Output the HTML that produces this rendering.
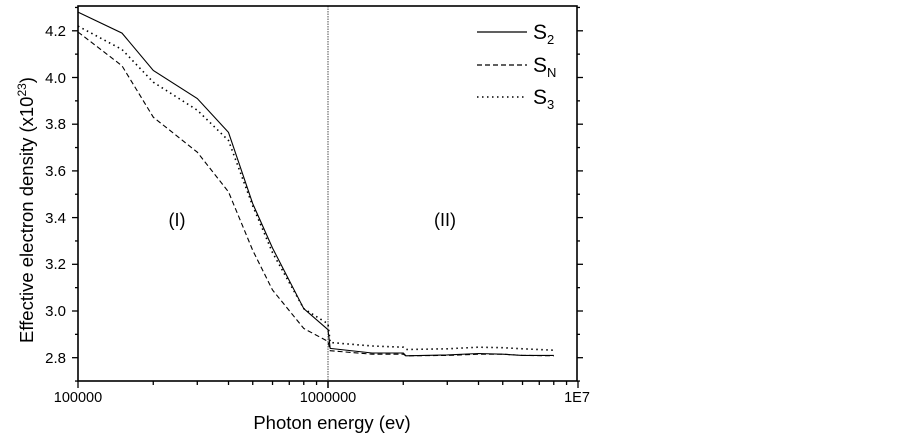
<!DOCTYPE html>
<html><head><meta charset="utf-8"><style>html,body{margin:0;padding:0;background:#fff}svg{display:block}</style></head>
<body>
<svg width="902" height="437" xmlns="http://www.w3.org/2000/svg" font-family="Liberation Sans, Arial, sans-serif">
<rect width="902" height="437" fill="#fff"/>
<g id="ticks" stroke="#000" stroke-width="1.3"></g>
<line x1="328" y1="6" x2="328" y2="381" stroke="#888" stroke-width="1.5" stroke-dasharray="1.5,1"/>
<g id="series" fill="none" stroke="#000" stroke-width="1.1"></g>
<rect x="78" y="6" width="499" height="375" fill="none" stroke="#000" stroke-width="1.6"/>
<g font-size="15" fill="#000" text-anchor="end">
<text x="66" y="36">4.2</text><text x="66" y="83">4.0</text><text x="66" y="129">3.8</text>
<text x="66" y="176">3.6</text><text x="66" y="223">3.4</text><text x="66" y="269">3.2</text>
<text x="66" y="316">3.0</text><text x="66" y="363">2.8</text>
</g>
<g font-size="14.5" fill="#000" text-anchor="middle">
<text x="78" y="402">100000</text><text x="328" y="402">1000000</text><text x="577" y="402">1E7</text>
</g>
<text x="332" y="429" font-size="18.5" text-anchor="middle">Photon energy (ev)</text>
<text transform="translate(33,210) rotate(-90)" font-size="18.5" text-anchor="middle">Effective electron density (x10<tspan font-size="12" dy="-7">23</tspan><tspan dy="7">)</tspan></text>
<text x="177" y="226" font-size="18" text-anchor="middle">(I)</text>
<text x="445" y="226" font-size="18" text-anchor="middle">(II)</text>
<g stroke="#000" stroke-width="1.2">
<line x1="477" y1="32" x2="527" y2="32"/>
<line x1="477" y1="65" x2="527" y2="65" stroke-dasharray="5,3"/>
<line x1="477" y1="97" x2="527" y2="97" stroke-dasharray="1.5,3.5" stroke-width="1.6"/>
</g>
<g font-size="21" fill="#000">
<text x="533" y="39">S<tspan font-size="13" dy="5">2</tspan></text>
<text x="533" y="72">S<tspan font-size="13" dy="5">N</tspan></text>
<text x="533" y="104">S<tspan font-size="13" dy="5">3</tspan></text>
</g>
<script>
var X=function(e){return 78+250*(Math.log10(e)-5)};
var Y=function(v){return 357.7-(v-2.8)/0.2*46.7};
var ns="http://www.w3.org/2000/svg";
var xs=[1e5,1.5e5,2e5,3e5,4e5,5e5,6e5,8e5,1e6,1.02e6,1.5e6,2e6,2.05e6,3e6,4e6,5e6,6e6,8e6];
var S2=[4.28,4.19,4.03,3.91,3.765,3.46,3.27,3.01,2.92,2.84,2.82,2.82,2.808,2.812,2.818,2.815,2.81,2.81];
var SN=[4.195,4.05,3.83,3.68,3.51,3.26,3.09,2.925,2.87,2.83,2.815,2.815,2.808,2.81,2.815,2.815,2.81,2.808];
var S3=[4.22,4.12,3.98,3.86,3.73,3.45,3.25,3.01,2.945,2.865,2.85,2.845,2.835,2.838,2.845,2.843,2.838,2.832];
function pl(d,dash,w){var p=document.createElementNS(ns,"polyline");p.setAttribute("points",xs.map(function(e,i){return X(e).toFixed(1)+","+Y(d[i]).toFixed(1)}).join(" "));if(dash)p.setAttribute("stroke-dasharray",dash);if(w)p.setAttribute("stroke-width",w);document.getElementById("series").appendChild(p);}
pl(S2);pl(SN,"5,3");pl(S3,"1.5,3.5",1.6);
var t=document.getElementById("ticks");
function ln(a,b,c,d){var l=document.createElementNS(ns,"line");l.setAttribute("x1",a);l.setAttribute("y1",b);l.setAttribute("x2",c);l.setAttribute("y2",d);t.appendChild(l);}
for(var k=0;k<17;k++){var v=2.7+k*0.1;var y=Y(v);if(y<6)continue;var L=(k%2==1)?6:3;ln(78-L,y,78,y);ln(577,y,577+L,y);}
for(var dd=5;dd<7;dd++)for(var m=1;m<=10;m++){var x=X(m*Math.pow(10,dd));var L=(m==1||m==10)?7:4;ln(x,381,x,381+L);}
</script>
</svg>
</body></html>
